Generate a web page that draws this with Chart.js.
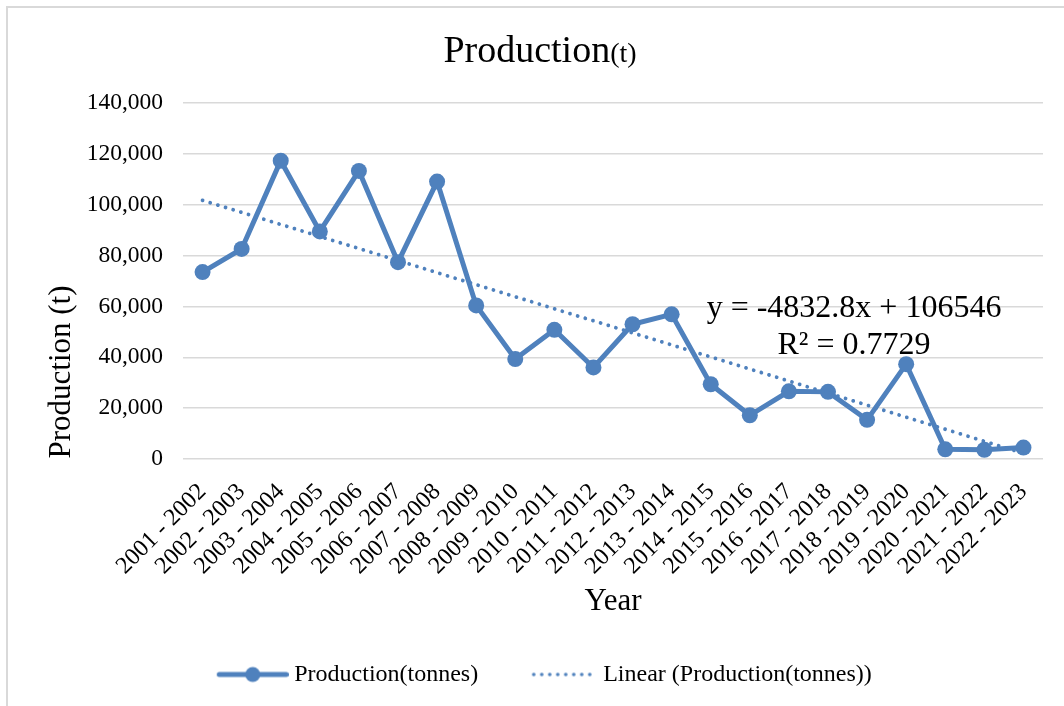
<!DOCTYPE html>
<html>
<head>
<meta charset="utf-8">
<script src="https://cdn.jsdelivr.net/npm/chart.js@4.4.1/dist/chart.umd.min.js"></script>
<style>
  html, body { margin: 0; padding: 0; background: #fff; }
  #wrap { width: 1064px; height: 706px; position: relative; }
</style>
</head>
<body>
<div id="wrap"><canvas id="canvas"></canvas></div>
<script>
// Data
const years = [
  "2001 - 2002", "2002 - 2003", "2003 - 2004", "2004 - 2005", "2005 - 2006",
  "2006 - 2007", "2007 - 2008", "2008 - 2009", "2009 - 2010", "2010 - 2011",
  "2011 - 2012", "2012 - 2013", "2013 - 2014", "2014 - 2015", "2015 - 2016",
  "2016 - 2017", "2017 - 2018", "2018 - 2019", "2019 - 2020", "2020 - 2021",
  "2021 - 2022", "2022 - 2023"
];
const production = [
  73500, 82600, 117300, 89500, 113300, 77400, 109100, 60400, 39300, 50800,
  36000, 53000, 56900, 29400, 17200, 26600, 26400, 15400, 37300, 3800,
  3600, 4500
];
// trend line end values (first and last year), y = -4832.8x + 106546
const trendEnds = [101713, 2224];
const equationLines = ["y = -4832.8x + 106546", "R² = 0.7729"];
const yMin = 0, yMax = 140000, yStep = 20000;

const blue = "#4f81bd";
const serif = "'Liberation Serif', 'Times New Roman', serif";

const trend = years.map((_, i) => i === 0 ? trendEnds[0] : (i === years.length - 1 ? trendEnds[1] : null));

// legend symbols (line with marker / dotted line)
const legendBoxW = 103;
function legendSymbol(kind) {
  const c = document.createElement("canvas");
  c.width = legendBoxW + 13;
  c.height = 20;
  const g = c.getContext("2d");
  const end = c.width;
  g.strokeStyle = blue;
  g.fillStyle = blue;
  if (kind === "line") {
    const start = end - 72;
    g.lineWidth = 5;
    g.lineCap = "round";
    g.beginPath(); g.moveTo(start + 2.5, 10); g.lineTo(end - 2.5, 10); g.stroke();
    g.beginPath(); g.arc((start + end) / 2, 10, 7.5, 0, Math.PI * 2); g.fill();
  } else {
    const start = end - 66;
    for (let x = start + 2; x < end; x += 8) {
      g.beginPath(); g.arc(x, 10, 1.8, 0, Math.PI * 2); g.fill();
    }
  }
  return c;
}

const extras = {
  id: "extras",
  beforeDraw(chart) {
    const ctx = chart.ctx;
    ctx.save();
    ctx.strokeStyle = "#d9d9d9";
    ctx.lineWidth = 2;
    ctx.beginPath();
    ctx.moveTo(7, chart.height);
    ctx.lineTo(7, 7);
    ctx.lineTo(chart.width, 7);
    ctx.stroke();
    ctx.restore();
  },
  afterDraw(chart) {
    const ctx = chart.ctx;
    ctx.save();
    ctx.fillStyle = "#000";
    ctx.textBaseline = "alphabetic";

    // chart title, "(t)" in a smaller size
    ctx.font = "38px " + serif;
    const w1 = ctx.measureText("Production").width;
    ctx.font = "28px " + serif;
    const w2 = ctx.measureText("(t)").width;
    let x = 540 - (w1 + w2) / 2;
    ctx.textAlign = "left";
    ctx.font = "38px " + serif;
    ctx.fillText("Production", x, 62);
    ctx.font = "28px " + serif;
    ctx.fillText("(t)", x + w1, 62);

    // y axis title
    ctx.save();
    ctx.translate(70, 372);
    ctx.rotate(-Math.PI / 2);
    ctx.textAlign = "center";
    ctx.font = "31px " + serif;
    ctx.fillText("Production (t)", 0, 0);
    ctx.restore();

    // trend line equation
    ctx.textAlign = "center";
    ctx.font = "32px " + serif;
    ctx.fillText(equationLines[0], 854, 317);
    ctx.fillText(equationLines[1], 854, 354);
    ctx.restore();
  }
};

const ctx = document.getElementById("canvas").getContext("2d");
new Chart(ctx, {
  type: "line",
  data: {
    labels: years,
    datasets: [
      {
        label: "Linear (Production(tonnes))",
        data: trend,
        spanGaps: true,
        borderColor: blue,
        borderWidth: 3.8,
        borderDash: [0.01, 8],
        borderCapStyle: "round",
        pointRadius: 0,
        fill: false,
        order: 0
      },
      {
        label: "Production(tonnes)",
        data: production,
        borderColor: blue,
        backgroundColor: blue,
        borderWidth: 5,
        pointRadius: 8,
        pointBackgroundColor: blue,
        pointBorderWidth: 0,
        tension: 0,
        fill: false,
        order: 1
      }
    ]
  },
  options: {
    responsive: true,
    maintainAspectRatio: false,
    animation: false,
    layout: { padding: { top: 103, right: 21, bottom: 9.5, left: 8 } },
    plugins: {
      title: { display: false },
      tooltip: { enabled: false },
      legend: {
        position: "bottom",
        labels: {
          usePointStyle: true,
          pointStyleWidth: legendBoxW,
          padding: 10,
          color: "#000",
          font: { family: serif, size: 24 },
          generateLabels: () => [
            { text: "Production(tonnes)", pointStyle: legendSymbol("line"), datasetIndex: 1, hidden: false, lineWidth: 0, fontColor: "#000" },
            { text: "Linear (Production(tonnes))", pointStyle: legendSymbol("dot"), datasetIndex: 0, hidden: false, lineWidth: 0, fontColor: "#000" }
          ]
        }
      }
    },
    scales: {
      x: {
        offset: true,
        grid: { display: false, drawTicks: false },
        border: { display: false },
        ticks: {
          autoSkip: false,
          minRotation: 45,
          maxRotation: 45,
          padding: 19,
          color: "#000",
          font: { family: serif, size: 24 }
        },
        title: {
          display: true,
          text: "Year",
          color: "#000",
          font: { family: serif, size: 31 },
          padding: { top: 0, bottom: 32 }
        },
        afterFit: (scale) => { scale.height = 193.5; }
      },
      y: {
        min: yMin,
        max: yMax,
        grid: { color: "#d9d9d9", lineWidth: 1.5, drawTicks: false },
        border: { display: false },
        ticks: {
          stepSize: yStep,
          padding: 20,
          color: "#000",
          font: { family: serif, size: 23.5 },
          callback: (v) => v.toLocaleString("en-US")
        },
        afterFit: (scale) => { scale.width = 175; }
      }
    }
  },
  plugins: [extras]
});
</script>
</body>
</html>
